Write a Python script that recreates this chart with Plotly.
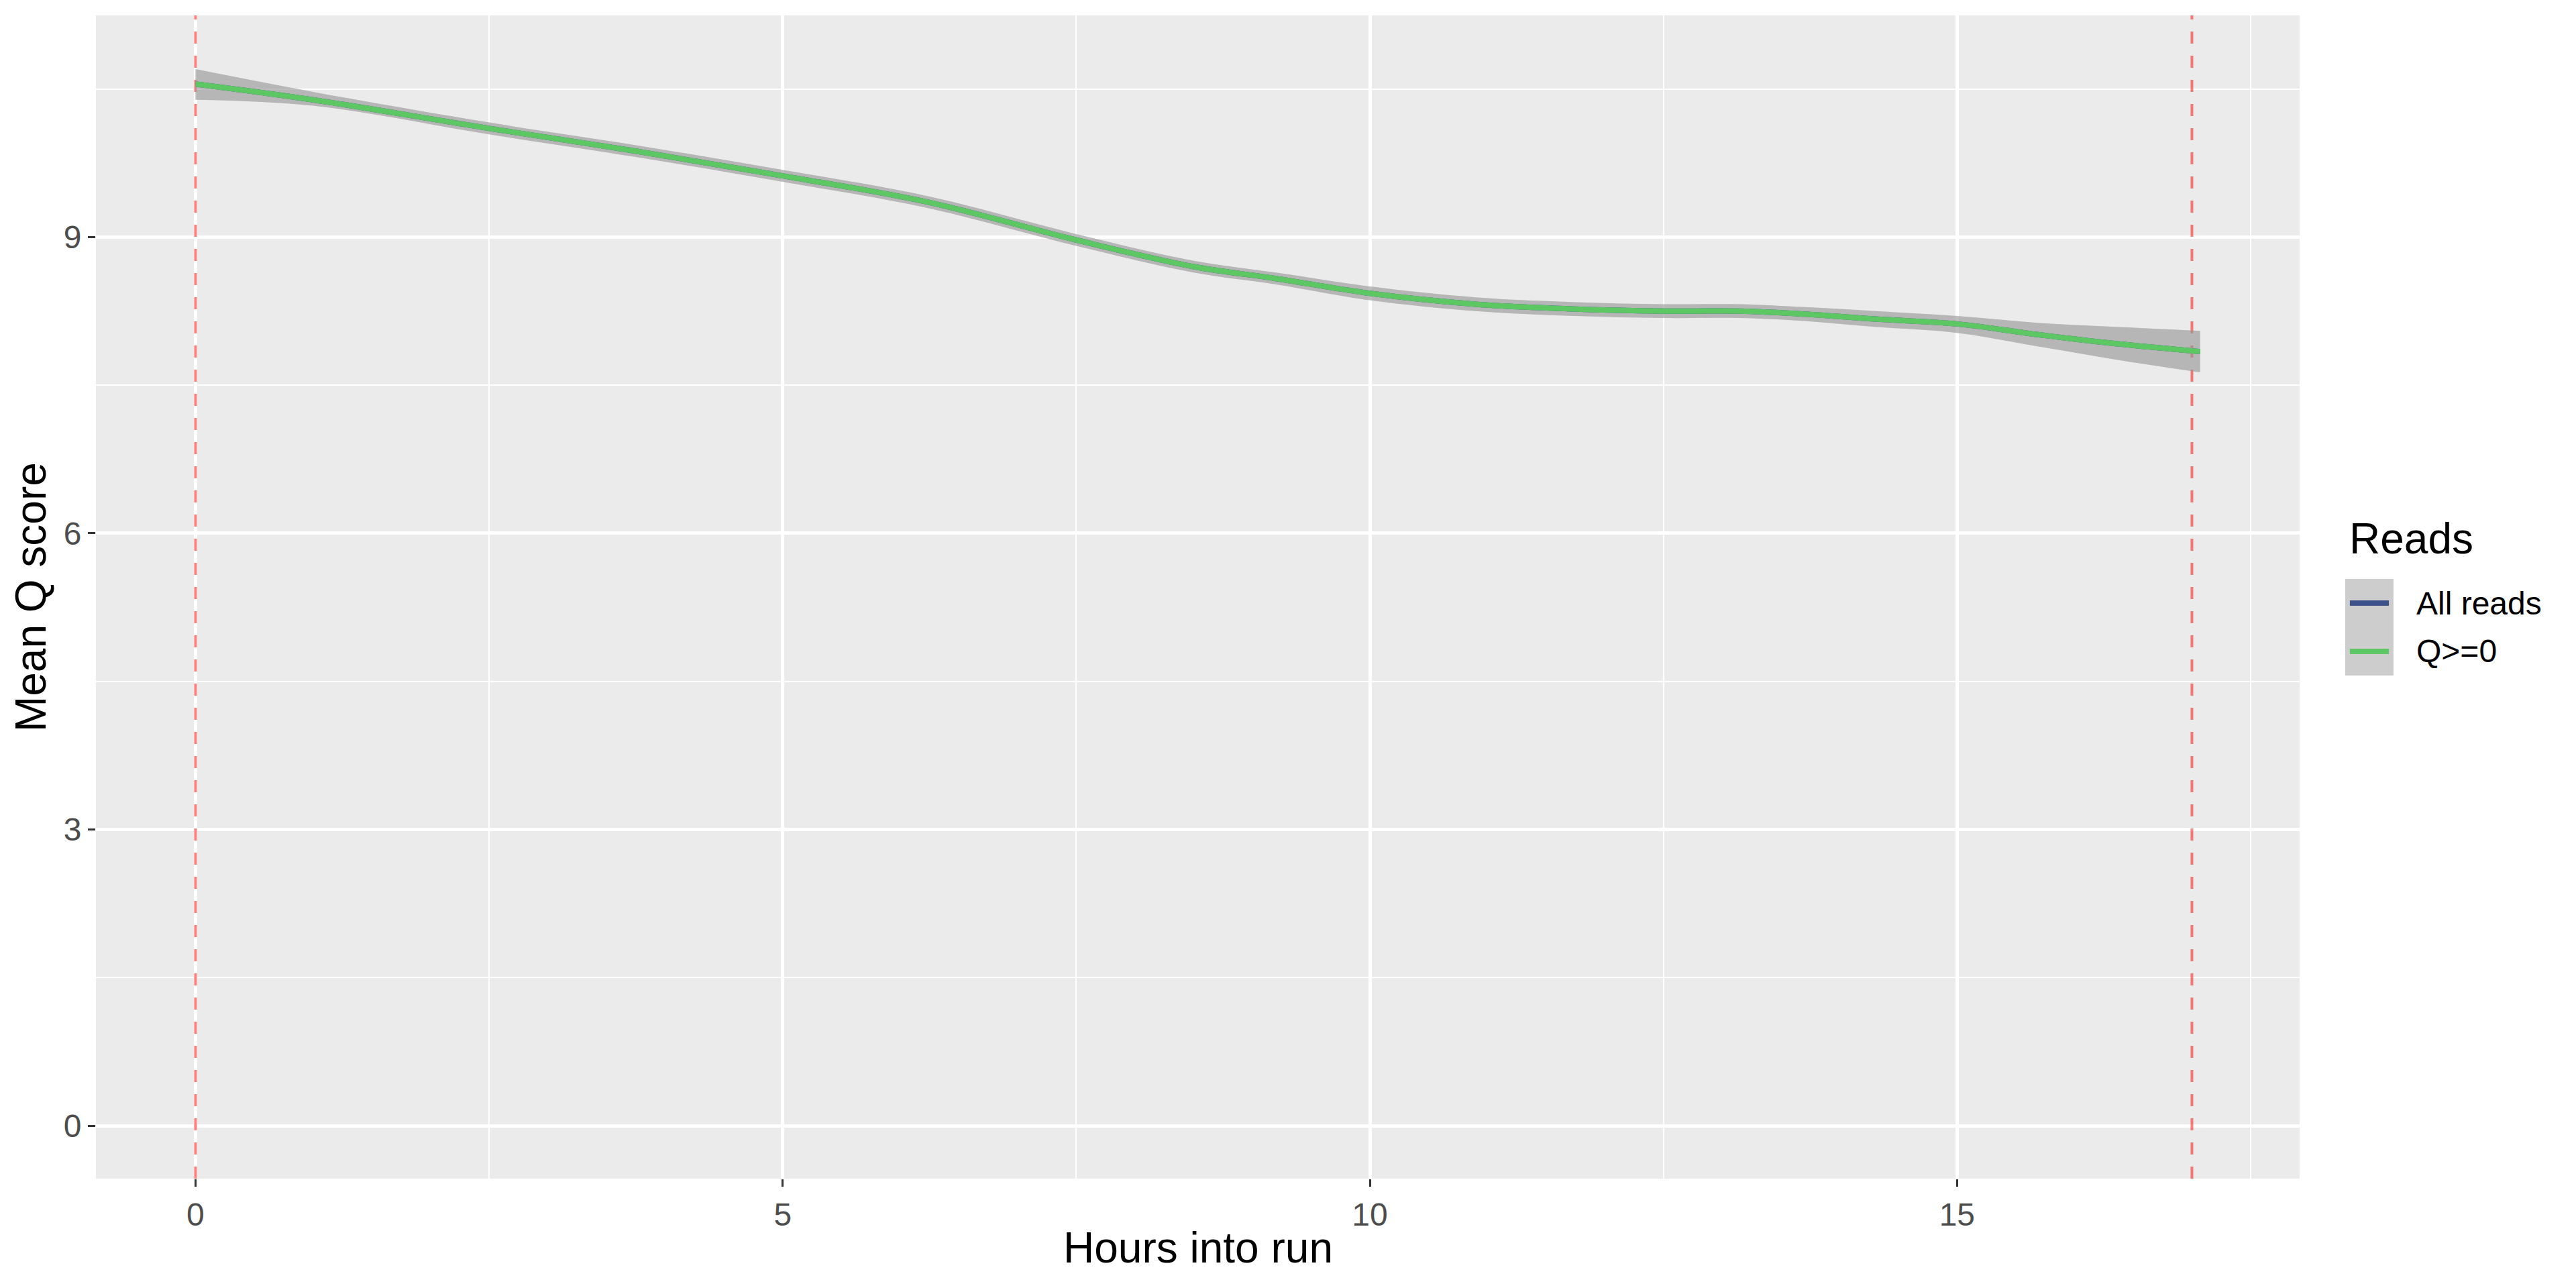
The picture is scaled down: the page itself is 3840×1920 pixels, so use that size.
import plotly.graph_objects as go

# values (hours into run -> mean Q score)
hours = [0, 1.0, 2.5, 3.75, 5.0, 6.25, 7.5, 8.5, 9.2, 10.0, 10.9, 11.75, 12.5, 13.15, 13.7, 14.3, 15.0, 15.7, 16.35, 17.07]
q_fit = [10.55, 10.39, 10.10, 9.87, 9.62, 9.35, 8.97, 8.70, 8.58, 8.43, 8.32, 8.27, 8.25, 8.25, 8.22, 8.17, 8.12, 8.01, 7.92, 7.84]
q_upper = [10.70, 10.47, 10.16, 9.93, 9.68, 9.41, 9.03, 8.76, 8.64, 8.50, 8.39, 8.34, 8.32, 8.32, 8.29, 8.25, 8.20, 8.13, 8.09, 8.05]
q_lower = [10.39, 10.33, 10.04, 9.81, 9.56, 9.29, 8.91, 8.64, 8.52, 8.36, 8.25, 8.20, 8.18, 8.18, 8.15, 8.09, 8.03, 7.89, 7.76, 7.63]

series_names = ['All reads', 'Q>=0']
series_colors = ['#3B528B', '#5DC863']
run_bounds = [0, 17]

x_ticks = [0, 5, 10, 15]
y_ticks = [0, 3, 6, 9]
x_range = [-0.848, 17.917]
y_range = [-0.535, 11.244]

font_family = 'Liberation Sans, Arial, Helvetica, sans-serif'
ribbon_fill = 'rgba(153,153,153,0.4)'

fig = go.Figure()

# start / end of run, as traces so they sit above the grid but under the ribbons
for b in run_bounds:
    fig.add_trace(go.Scatter(x=[b, b], y=y_range, mode='lines',
                             line=dict(color='rgba(255,0,0,0.5)', width=4, dash='18px,18px'),
                             showlegend=False, hoverinfo='skip'))

# confidence ribbons (one per series, they overlap)
for name in series_names:
    fig.add_trace(go.Scatter(x=hours, y=q_lower, mode='lines', line=dict(width=0, shape='spline'),
                             showlegend=False, hoverinfo='skip'))
    fig.add_trace(go.Scatter(x=hours, y=q_upper, mode='lines', line=dict(width=0, shape='spline'),
                             fill='tonexty', fillcolor=ribbon_fill, showlegend=False, hoverinfo='skip'))

for name, col in zip(series_names, series_colors):
    fig.add_trace(go.Scatter(x=hours, y=q_fit, mode='lines', name=name,
                             line=dict(color=col, width=8, shape='spline'), showlegend=False))

axis_common = dict(
    showgrid=True, gridcolor='white', gridwidth=4.5, zeroline=False,
    ticks='outside', ticklen=11, tickwidth=3, tickcolor='#333333',
    tickfont=dict(size=48, color='#4D4D4D', family=font_family),
    showline=False,
)

fig.update_xaxes(range=x_range, tickvals=x_ticks,
                 minor=dict(tick0=0, dtick=2.5, showgrid=True, gridcolor='white', gridwidth=2.3, ticklen=0),
                 **axis_common)
fig.update_yaxes(range=y_range, tickvals=y_ticks,
                 minor=dict(tick0=0, dtick=1.5, showgrid=True, gridcolor='white', gridwidth=2.3, ticklen=0),
                 **axis_common)

# axis titles
fig.add_annotation(text='Hours into run', xref='paper', yref='paper', x=0.5, y=-0.0594,
                   xanchor='center', yanchor='middle', showarrow=False,
                   font=dict(size=64, color='black', family=font_family))
fig.add_annotation(text='Mean Q score', xref='paper', yref='paper', x=-0.0295, y=0.5,
                   xanchor='center', yanchor='middle', textangle=-90, showarrow=False,
                   font=dict(size=64, color='black', family=font_family))

# legend drawn by hand (ggplot style, grey keys behind the lines)
fig.add_annotation(text='Reads', xref='paper', yref='paper', x=1.0219, y=0.5502,
                   xanchor='left', yanchor='middle', showarrow=False,
                   font=dict(size=64, color='black', family=font_family))
key_y = [0.4948, 0.4533]
for i, (name, col) in enumerate(zip(series_names, series_colors)):
    fig.add_shape(type='rect', xref='paper', yref='paper', x0=1.0207, x1=1.0426,
                  y0=key_y[i] - 0.02076, y1=key_y[i] + 0.02076,
                  fillcolor='#CDCDCD', line=dict(width=0))
    fig.add_shape(type='line', xref='paper', yref='paper', x0=1.0228, x1=1.0405,
                  y0=key_y[i], y1=key_y[i], line=dict(color=col, width=8))
    fig.add_annotation(text=name, xref='paper', yref='paper', x=1.0524, y=key_y[i],
                       xanchor='left', yanchor='middle', showarrow=False,
                       font=dict(size=48, color='black', family=font_family))

# page body adds 8px, so margins are pulled in by that much
fig.update_layout(
    width=3840, height=1920,
    margin=dict(l=135, r=420, t=15, b=171),
    plot_bgcolor='#EBEBEB', paper_bgcolor='white',
    font=dict(family=font_family),
    showlegend=False,
)

fig.write_html('out.html')
